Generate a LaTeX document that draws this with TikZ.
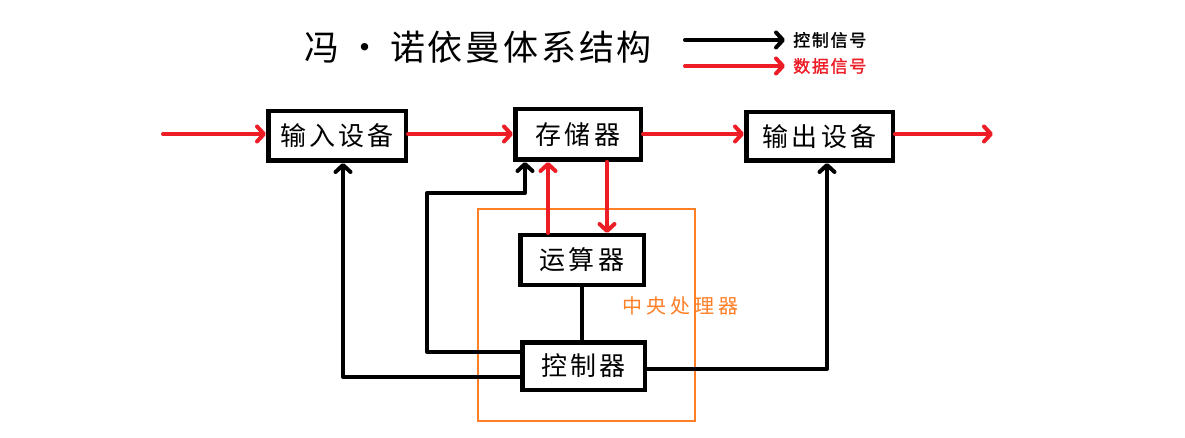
\documentclass[tikz,border=0pt]{standalone}
\usepackage{fontspec}
\usetikzlibrary{arrows.meta,calc}
\newfontfamily\cjkbox[LetterSpace=12]{Noto Sans CJK SC}
\newfontfamily\cjktitle[LetterSpace=8]{Noto Sans CJK SC}
\newfontfamily\cjkcpu[LetterSpace=20]{Noto Sans CJK SC}
\newfontfamily\cjkleg[LetterSpace=10,FakeBold=1.5]{Noto Sans CJK SC}
\definecolor{sigred}{HTML}{EE1C25}
\definecolor{cpuorange}{HTML}{FF7F27}
\begin{document}
\begin{tikzpicture}[x=1pt,y=-1pt,
  blk/.style={draw=black,line width=4.5pt,fill=white,inner sep=0pt,
    font=\cjkbox\fontsize{26}{26}\selectfont},
  ctrl/.style={draw=black,line width=4pt,line cap=round,line join=round},
  ctrlarrow/.style={ctrl,-{Straight Barb[length=7pt,width=15pt,line cap=round,line join=round]}},
  data/.style={draw=sigred,line width=4pt,line cap=round,line join=round,
    -{Straight Barb[length=7pt,width=15pt,line cap=round,line join=round]}}]
\fill[white] (0,0) rectangle (1185,438);
\useasboundingbox (0,0) rectangle (1185,438);

% title
\node[font=\cjktitle\fontsize{35}{35}\selectfont,inner sep=0pt] (title) at (478,47)
  {冯\hspace{8pt}·\hspace{8pt}诺依曼体系结构};

% legend
\coordinate (l1s) at (685,40);
\coordinate (l1e) at (785,40);
\coordinate (l2s) at (685,66);
\coordinate (l2e) at (785,66);
\draw[ctrlarrow] (l1s) -- (l1e);
\draw[data] (l2s) -- (l2e);
\node[anchor=west,inner sep=0pt,font=\cjkleg\fontsize{17}{17}\selectfont] (legc) at (793,40) {控制信号};
\node[anchor=west,inner sep=0pt,text=sigred,font=\cjkleg\fontsize{17}{17}\selectfont] (legd) at (793,66) {数据信号};

% CPU frame
\draw[cpuorange,line width=2pt] (478,209) rectangle (695,421);
\node[text=cpuorange,inner sep=0pt,font=\cjkcpu\fontsize{20}{20}\selectfont] (cpu) at (680,306) {中央处理器};

% blocks
\node[blk,minimum width=137.5pt,minimum height=49.5pt] (in) at (337,136) {输入设备};
\node[blk,minimum width=125.5pt,minimum height=50.5pt] (mem) at (578,134.5) {存储器};
\node[blk,minimum width=146.5pt,minimum height=48.5pt] (out) at (819.5,136.5) {输出设备};
\node[blk,minimum width=123.5pt,minimum height=49.5pt] (alu) at (582,260) {运算器};
\node[blk,minimum width=122.5pt,minimum height=47.5pt] (cu) at (583.5,366) {控制器};

% data signals
\coordinate (src) at (163,134);
\coordinate (dst) at (993,134);
\draw[data] (src) -- (src -| in.west);
\draw[data] (in.east |- src) -- (mem.west |- src);
\draw[data] (mem.east |- src) -- (out.west |- src);
\draw[data] (out.east |- src) -- (dst);
\draw[data] ($(alu.north)+(-34,0)$) coordinate (r1) -- (r1 |- mem.south);
\draw[data] ($(mem.south)+(29,0)$) coordinate (r2) -- (r2 |- alu.north);

% control signals
\draw[ctrl] (alu.south) -- (alu.south |- cu.north);
\draw[ctrlarrow] ($(cu.west)+(0,11)$) -| ($(in.south)+(6,0)$);
\coordinate (k1) at (427,193);
\draw[ctrlarrow] ($(cu.west)+(0,-14)$) -| (k1) -| ($(mem.south)+(-53,0)$);
\draw[ctrlarrow] ($(cu.east)+(0,3)$) -| ($(out.south)+(7.5,0)$);
\end{tikzpicture}
\end{document}
